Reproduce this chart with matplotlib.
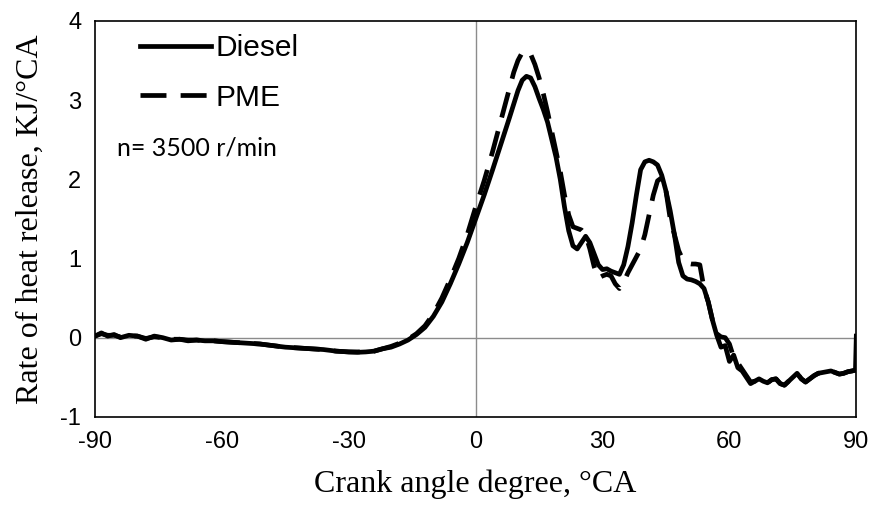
import numpy as np
import matplotlib
matplotlib.use('Agg')
import matplotlib.pyplot as plt

plt.rcParams['axes.unicode_minus'] = False

# crank angle (deg) and rate of heat release (KJ/degCA)
diesel_x = [-90, -88.5, -87, -85.5, -84, -82, -80, -78, -76, -74, -72, -70, -68, -66, -64, -62, -60,
            -57, -54, -51, -48, -45, -42, -39, -36, -33, -30, -28, -26, -24, -22, -20, -18, -16, -14,
            -12, -10, -8, -6, -4, -2, 0, 2, 4, 6, 8, 9, 10, 11, 12, 13, 14, 15, 16, 17, 18, 19, 20,
            21, 22, 23, 24, 25, 26, 27, 28, 29, 30, 31, 32, 33, 34, 35, 36, 37, 38, 39, 40, 41, 42,
            43, 44, 45, 46, 47, 48, 49, 50, 51, 52, 53, 54, 55, 56, 57, 58, 59, 60, 61, 62, 63, 64,
            65, 66, 67, 68, 69, 70, 71, 72, 73, 74, 75, 76, 77, 78, 79, 80, 81, 82, 83, 84, 85, 86,
            87, 88, 89, 89.8, 90]
diesel_y = [0.02, 0.06, 0.02, 0.04, 0.0, 0.03, 0.02, -0.02, 0.02, 0.0, -0.03, -0.02, -0.04, -0.03,
            -0.04, -0.04, -0.05, -0.06, -0.07, -0.08, -0.10, -0.12, -0.13, -0.14, -0.15, -0.17,
            -0.18, -0.185, -0.18, -0.17, -0.14, -0.12, -0.08, -0.03, 0.04, 0.13, 0.27, 0.45, 0.68,
            0.93, 1.2, 1.5, 1.8, 2.12, 2.45, 2.78, 2.95, 3.12, 3.25, 3.3, 3.28, 3.17, 3.02, 2.88,
            2.72, 2.5, 2.28, 2.0, 1.65, 1.35, 1.16, 1.12, 1.2, 1.28, 1.2, 1.06, 0.92, 0.86, 0.87,
            0.84, 0.82, 0.8, 0.92, 1.15, 1.45, 1.8, 2.12, 2.22, 2.24, 2.22, 2.18, 2.05, 1.85, 1.6,
            1.3, 0.95, 0.78, 0.74, 0.73, 0.71, 0.68, 0.62, 0.45, 0.22, 0.03, -0.12, -0.1, -0.3,
            -0.22, -0.38, -0.42, -0.5, -0.58, -0.55, -0.52, -0.55, -0.57, -0.53, -0.52, -0.58,
            -0.6, -0.55, -0.5, -0.45, -0.52, -0.56, -0.52, -0.48, -0.45, -0.44, -0.43, -0.42,
            -0.44, -0.46, -0.45, -0.43, -0.42, -0.41, 0.02]

pme_x = [-90, -88.5, -87, -85.5, -84, -82, -80, -78, -76, -74, -72, -70, -68, -66, -64, -62, -60,
         -57, -54, -51, -48, -45, -42, -39, -36, -33, -30, -28, -26, -24, -22, -20, -18, -16, -14,
         -12, -10, -8, -6, -4, -2, 0, 2, 4, 6, 8, 9, 10, 11, 12, 13, 14, 15, 16, 17, 18, 19, 20,
         21, 22, 23, 24, 25, 26, 27, 28, 29, 30, 31, 32, 33, 34, 35, 36, 37, 38, 39, 40, 41, 42,
         43, 44, 45, 46, 47, 48, 49, 50, 51, 52, 53, 54, 55, 56, 57, 58, 59, 60, 61, 62, 63, 64,
         65, 66, 67, 68, 69, 70, 71, 72, 73, 74, 75, 76, 77, 78, 79, 80, 81, 82, 83, 84, 85, 86,
         87, 88, 89, 89.8]
pme_y = [0.02, 0.05, 0.03, 0.03, 0.01, 0.02, 0.02, -0.01, 0.01, 0.0, -0.02, -0.02, -0.03, -0.03,
         -0.04, -0.04, -0.05, -0.06, -0.07, -0.08, -0.10, -0.12, -0.13, -0.14, -0.15, -0.17,
         -0.18, -0.18, -0.18, -0.17, -0.14, -0.11, -0.07, -0.02, 0.05, 0.15, 0.3, 0.5, 0.74,
         1.0, 1.3, 1.65, 1.98, 2.35, 2.75, 3.15, 3.35, 3.5, 3.6, 3.63, 3.58, 3.45, 3.28, 3.08,
         2.85, 2.6, 2.35, 2.1, 1.8, 1.55, 1.4, 1.38, 1.36, 1.3, 1.12, 0.9, 0.75, 0.78, 0.8,
         0.78, 0.68, 0.62, 0.7, 0.82, 0.92, 1.02, 1.12, 1.3, 1.55, 1.8, 1.98, 2.02, 1.85, 1.5,
         1.3, 1.1, 0.98, 0.94, 0.93, 0.93, 0.92, 0.62, 0.45, 0.22, 0.05, 0.01, 0.0, -0.08,
         -0.25, -0.32, -0.4, -0.48, -0.56, -0.55, -0.52, -0.55, -0.57, -0.53, -0.52, -0.58,
         -0.6, -0.55, -0.5, -0.45, -0.52, -0.56, -0.52, -0.48, -0.45, -0.44, -0.43, -0.42,
         -0.44, -0.46, -0.45, -0.43, -0.42, -0.41]

xticks = [-90, -60, -30, 0, 30, 60, 90]
yticks = [-1, 0, 1, 2, 3, 4]

fig = plt.figure(figsize=(8.72, 5.09), dpi=100)
ax = fig.add_axes([0.109, 0.181, 0.873, 0.778])

ax.axhline(0, color='#8c8c8c', lw=1.0, zorder=1)
ax.axvline(0, color='#8c8c8c', lw=1.0, zorder=1)

ax.plot(diesel_x, diesel_y, color='black', lw=3.4, label='Diesel', zorder=3)
ax.plot(pme_x, pme_y, color='black', lw=3.4, dashes=(5.5, 3), label='PME', zorder=2)

ax.set_xlim(-90, 90)
ax.set_ylim(-1, 4)
ax.set_xticks(xticks)
ax.set_yticks(yticks)
ax.tick_params(length=0, labelsize=17, pad=10)
for lab in ax.get_xticklabels() + ax.get_yticklabels():
    lab.set_family('Liberation Sans')
for s in ax.spines.values():
    s.set_linewidth(1.2)

ax.set_xlabel('Crank angle degree, °CA', family='Liberation Serif', fontsize=23, labelpad=12)
ax.set_ylabel('Rate of heat release, KJ/°CA', family='Liberation Serif', fontsize=23, labelpad=11)

leg = ax.legend(loc='upper left', bbox_to_anchor=(0.041, 1.0), frameon=False,
                prop={'family': 'Liberation Sans', 'size': 21.5},
                handlelength=2.4, handletextpad=0.13, labelspacing=0.72,
                borderaxespad=0.25, borderpad=0.2)

ax.text(0.029, 0.68, 'n= 3500 r/min', transform=ax.transAxes, family='Lato', fontsize=18,
        va='center', ha='left')

plt.savefig('out.png', dpi=100)
